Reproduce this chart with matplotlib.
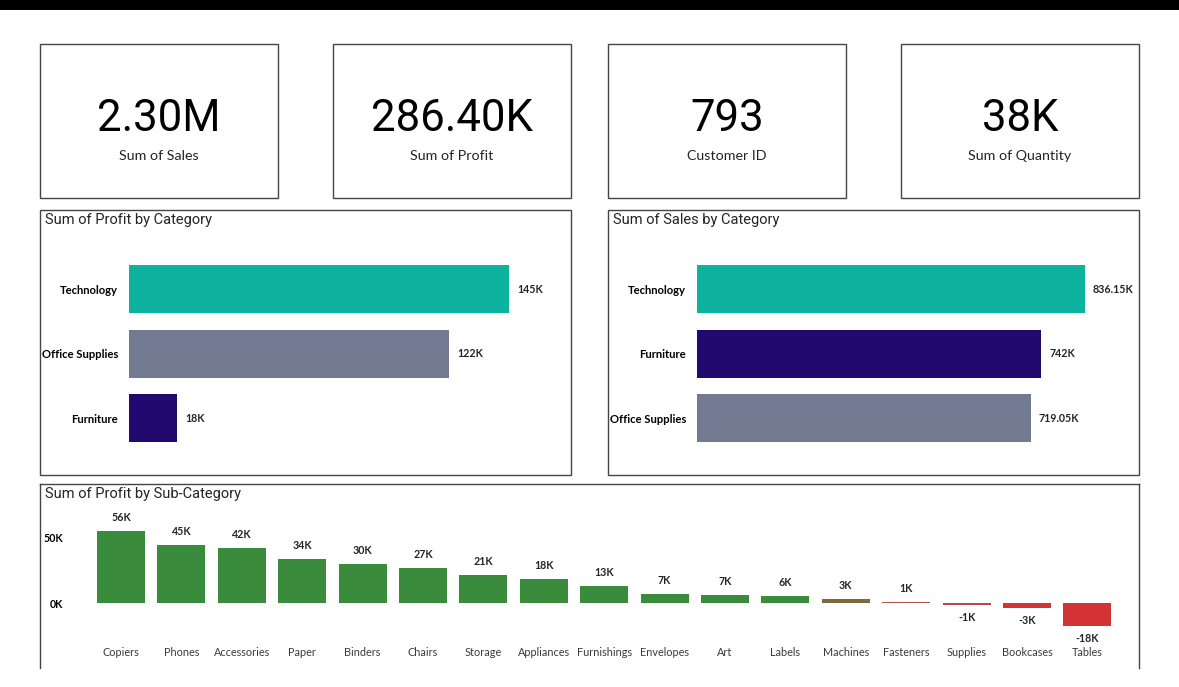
import matplotlib.pyplot as plt
from matplotlib.patches import Rectangle
from matplotlib.lines import Line2D

# card values
card_values = ['2.30M', '286.40K', '793', '38K']
card_labels = ['Sum of Sales', 'Sum of Profit', 'Customer ID', 'Sum of Quantity']

# profit by category (thousands)
profit_cats = ['Technology', 'Office Supplies', 'Furniture']
profit_vals = [145.45, 122.49, 18.45]
profit_text = ['145K', '122K', '18K']

# sales by category (thousands)
sales_cats = ['Technology', 'Furniture', 'Office Supplies']
sales_vals = [836.15, 742.0, 719.05]
sales_text = ['836.15K', '742K', '719.05K']

# profit by sub-category (thousands)
sub_cats = ['Copiers', 'Phones', 'Accessories', 'Paper', 'Binders', 'Chairs',
            'Storage', 'Appliances', 'Furnishings', 'Envelopes', 'Art', 'Labels',
            'Machines', 'Fasteners', 'Supplies', 'Bookcases', 'Tables']
sub_vals = [55.62, 44.52, 41.94, 34.05, 30.22, 26.59, 21.28, 18.14, 13.06, 6.96, 6.53,
            5.55, 3.38, 0.95, -1.19, -3.47, -17.73]

W, H = 1179, 687
BODY = ['Lato', 'DejaVu Sans']
TITLE = ['Roboto', 'DejaVu Sans']
BIG = ['Roboto', 'DejaVu Sans']


def frac(x0, y0, x1, y1):
    """pixel box -> figure fraction rect"""
    return [x0 / W, 1 - y1 / H, (x1 - x0) / W, (y1 - y0) / H]


def box(fig, x0, y0, x1, y1, color='#444444'):
    fig.patches.append(Rectangle((x0 / W, 1 - y1 / H), (x1 - x0) / W, (y1 - y0) / H,
                                 transform=fig.transFigure, fill=False,
                                 edgecolor=color, linewidth=1.0))


def fx(x):
    return x / W


def fy(y):
    return 1 - y / H


fig = plt.figure(figsize=(W / 100, H / 100), dpi=100)
fig.patch.set_facecolor('white')

# top black strip
fig.patches.append(Rectangle((0, fy(10)), 1, 10 / H, transform=fig.transFigure,
                             facecolor='black', edgecolor='none'))

# cards
card_x = [(40, 278), (333, 571), (608, 846), (901, 1139)]
for (x0, x1), v, lab in zip(card_x, card_values, card_labels):
    box(fig, x0, 44, x1, 198)
    cx = (x0 + x1) / 2
    fig.text(fx(cx), fy(119), v, ha='center', va='center', fontsize=31.5,
             family=BIG, color='black')
    fig.text(fx(cx), fy(156), lab, ha='center', va='center', fontsize=10.3,
             family=BODY, color='#252423')


def hbar_panel(x0, x1, cats, vals, texts, colors, title, bar_left, scale):
    box(fig, x0, 210, x1, 475)
    fig.text(fx(x0 + 5), fy(220), title, ha='left', va='center', fontsize=10.5,
             family=TITLE, color='#252423')
    right = x1 - 10
    ax = fig.add_axes(frac(bar_left, 250, right, 460))
    ypos = list(range(len(cats)))
    ax.barh(ypos, vals, height=48 / 64.5, color=colors)
    ax.set_xlim(0, (right - bar_left) / scale)
    ax.set_ylim((460 - 289) / 64.5, (250 - 289) / 64.5)
    ax.set_yticks(ypos)
    ax.set_yticklabels(cats, fontsize=8.1, fontweight='bold', family=BODY)
    ax.tick_params(axis='y', length=0, pad=8)
    ax.set_xticks([])
    for s in ax.spines.values():
        s.set_visible(False)
    for y, v, t in zip(ypos, vals, texts):
        ax.annotate(t, (v, y), xytext=(8, 0), textcoords='offset pixels',
                    ha='left', va='center', fontsize=7.7, fontweight='bold',
                    family=BODY, color='#252423')
    return ax


teal, slate, navy = '#0DB39E', '#737B92', '#22096F'
hbar_panel(40, 571, profit_cats, profit_vals, profit_text, [teal, slate, navy],
           'Sum of Profit by Category', 129, (509 - 129) / 145.45)
hbar_panel(608, 1139, sales_cats, sales_vals, sales_text, [teal, navy, slate],
           'Sum of Sales by Category', 697, (1085 - 697) / 836.15)

# bottom panel (cut off at the bottom)
for xs, ys in [((40, 1139), (484, 484)), ((40, 40), (484, 668)), ((1139, 1139), (484, 668))]:
    fig.lines.append(Line2D([fx(xs[0]), fx(xs[1])], [fy(ys[0]), fy(ys[1])],
                            transform=fig.transFigure, color='#444444', linewidth=1.0))
fig.text(fx(45), fy(494), 'Sum of Profit by Sub-Category', ha='left', va='center',
         fontsize=10.5, family=TITLE, color='#252423')


def sub_color(v):
    if v >= 5:
        return '#3A8B3C'
    if v >= 2:
        return '#7B6B3D'
    if v >= 0:
        return '#B4504A'
    if v >= -2:
        return '#B84845'
    return '#D43333'


step = 60.4
ax = fig.add_axes(frac(67, 505, 1130, 640))
xpos = list(range(len(sub_cats)))
ax.bar(xpos, sub_vals, width=48 / step, color=[sub_color(v) for v in sub_vals])
ax.set_xlim((67 - 121) / step, (1130 - 121) / step)
ax.set_ylim(-(640 - 603) / 1.3, (603 - 505) / 1.3)
ax.set_xticks(xpos)
ax.set_xticklabels(sub_cats, fontsize=7.8, family=BODY, color='#3a3a3a')
ax.tick_params(axis='x', length=0, pad=5)
ax.set_yticks([0, 50])
ax.set_yticklabels(['0K', '50K'], fontsize=7.7, fontweight='bold', family=BODY)
ax.tick_params(axis='y', length=0, pad=3)
for s in ax.spines.values():
    s.set_visible(False)
for x, v in zip(xpos, sub_vals):
    lab = f'{round(v):.0f}K'
    if v >= 0:
        ax.annotate(lab, (x, v), xytext=(0, 8), textcoords='offset pixels',
                    ha='center', va='bottom', fontsize=7.7, fontweight='bold',
                    family=BODY, color='#252423')
    else:
        ax.annotate(lab, (x, v), xytext=(0, -7), textcoords='offset pixels',
                    ha='center', va='top', fontsize=7.7, fontweight='bold',
                    family=BODY, color='#252423')

fig.savefig('out.png', dpi=100)
